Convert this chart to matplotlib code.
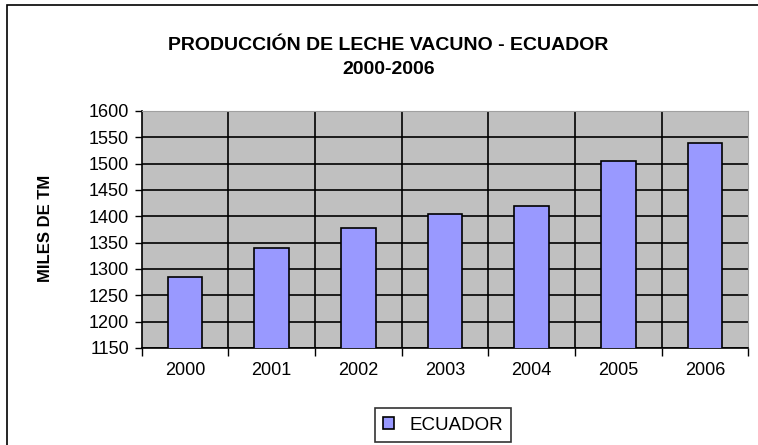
#!/usr/bin/env python3
"""
Produccion de leche vacuno - Ecuador 2000-2006
"""

import numpy as np
import matplotlib
matplotlib.use("Agg")
import matplotlib.pyplot as plt
from matplotlib.patches import Rectangle

# data
years = ["2000", "2001", "2002", "2003", "2004", "2005", "2006"]
produccion = [1285, 1339, 1378, 1404, 1420, 1504, 1539]
y_ticks = list(range(1150, 1601, 50))
series_name = "ECUADOR"

plt.rcParams["font.family"] = ["Liberation Sans", "DejaVu Sans"]

W, H = 758, 445
fig = plt.figure(figsize=(W / 100, H / 100), dpi=100)
ax = fig.add_axes([0.187, 0.218, 0.80, 0.533])

# outer chart frame (cropped at right and bottom like the original)
fig.patches.append(Rectangle((7 / W, -0.05), 1.1, 1 - 5 / H + 0.05,
                             transform=fig.transFigure, fill=False,
                             edgecolor="black", linewidth=1.2))

x = np.arange(len(years))
ax.set_facecolor("#C0C0C0")
ax.bar(x, produccion, width=0.4, color="#9999FF", edgecolor="black",
       linewidth=1.2, label=series_name, zorder=3)

ax.set_xlim(-0.5, len(years) - 0.5)
ax.set_ylim(y_ticks[0], y_ticks[-1])
ax.set_yticks(y_ticks)
ax.set_xticks(x)
ax.set_xticklabels(years)
ax.set_xticks(np.arange(-0.5, len(years)), minor=True)

ax.tick_params(axis="x", which="major", length=0, pad=10, labelsize=13)
ax.tick_params(axis="x", which="minor", length=6, width=1, direction="out")
ax.tick_params(axis="y", length=5, width=1, direction="out", labelsize=13, pad=4)

# grid lines
ax.yaxis.grid(True, color="black", linewidth=1.2, zorder=1)
ax.set_axisbelow(True)
for b in np.arange(0.5, len(years) - 1):
    ax.axvline(b, color="black", linewidth=1.2, zorder=1)

for side in ["top", "right"]:
    ax.spines[side].set_color("#A0A0A0")
for side in ["left", "bottom"]:
    ax.spines[side].set_color("black")
    ax.spines[side].set_linewidth(1.2)

fig.text(45 / W, 1 - 228 / H, "MILES DE TM", rotation=90, ha="center",
         va="center", fontsize=12, fontweight="bold")

fig.text(388 / W, 1 - 45 / H, "PRODUCCIÓN DE LECHE VACUNO - ECUADOR",
         ha="center", va="center", fontsize=14, fontweight="bold")
fig.text(389 / W, 1 - 69 / H, "2000-2006",
         ha="center", va="center", fontsize=14, fontweight="bold")

leg = fig.legend(loc="center", bbox_to_anchor=(443 / W, 1 - 425 / H),
                 fontsize=13.5, frameon=True, fancybox=False, edgecolor="black",
                 handlelength=0.6, handleheight=0.6, handletextpad=0.8,
                 borderpad=0.45)
leg.get_frame().set_linewidth(1.2)

fig.savefig("out.png", dpi=100)
plt.close(fig)
